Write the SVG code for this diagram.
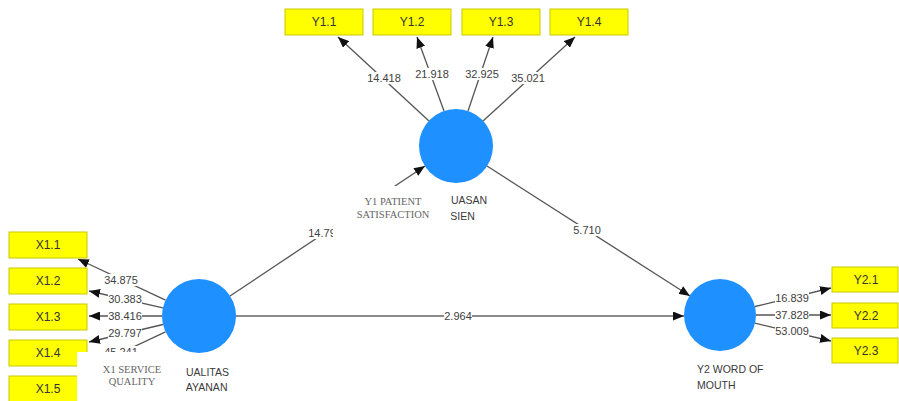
<svg xmlns="http://www.w3.org/2000/svg" width="899" height="401" viewBox="0 0 899 401">
<defs>
<style>
.ind rect{fill:#ffff00;stroke:#c8c800;stroke-width:1}
.ind text{font-family:"Liberation Sans",Arial,sans-serif;font-size:12px;fill:#333;text-anchor:middle}
.lv circle{fill:#1e90ff}
.lv text{font-family:"Liberation Sans",Arial,sans-serif;font-size:10.5px;fill:#3a3a3a}
.con line{stroke:#555;stroke-width:1.3;marker-end:url(#ah)}
.lbl rect{fill:#fff}
.lbl text{font-family:"Liberation Sans",Arial,sans-serif;font-size:11px;fill:#404040;text-anchor:middle}
.cov{fill:#fff}
.note{font-family:"Liberation Serif","Times New Roman",serif;font-size:10.5px;fill:#666;text-anchor:middle}
</style>
<marker id="ah" markerUnits="userSpaceOnUse" markerWidth="11" markerHeight="9" refX="11" refY="4.5" orient="auto">
<path d="M0,0 L11,4.5 L0,9 z" fill="#111"/>
</marker>
</defs>
<rect width="899" height="401" fill="#fff"/>

<g id="connectors" class="con">
<line x1="429" y1="121" x2="338" y2="37"/>
<line x1="444" y1="111" x2="417" y2="37"/>
<line x1="468" y1="111" x2="493" y2="37"/>
<line x1="483" y1="121" x2="575" y2="37"/>
<line x1="165.5" y1="300.2" x2="78" y2="259"/>
<line x1="162.9" y1="307.8" x2="89" y2="291"/>
<line x1="162" y1="316" x2="89" y2="316"/>
<line x1="163" y1="324.5" x2="89" y2="342"/>
<line x1="165.5" y1="331.8" x2="78" y2="373"/>
<line x1="755" y1="306.5" x2="831" y2="288"/>
<line x1="756" y1="315" x2="831" y2="315"/>
<line x1="755" y1="323.2" x2="831" y2="341"/>
<line x1="230" y1="296" x2="425" y2="166"/>
<line x1="487" y1="166" x2="690" y2="296"/>
<line x1="236" y1="316" x2="684" y2="316" style="stroke:#666;stroke-width:1.6"/>
</g>

<g id="labels" class="lbl">
<rect x="367" y="72" width="34" height="12"/><text x="384" y="82">14.418</text>
<rect x="415" y="68" width="34" height="12"/><text x="432" y="78">21.918</text>
<rect x="465" y="68" width="34" height="12"/><text x="482" y="78">32.925</text>
<rect x="511" y="72" width="34" height="12"/><text x="528" y="82">35.021</text>
<rect x="104" y="274" width="34" height="12"/><text x="121" y="284">34.875</text>
<rect x="108" y="293" width="34" height="12"/><text x="125" y="303">30.383</text>
<rect x="108" y="310" width="34" height="12"/><text x="125" y="320">38.416</text>
<rect x="108" y="327" width="34" height="12"/><text x="125" y="337">29.797</text>
<rect x="104" y="346" width="34" height="12"/><text x="121" y="356">45.241</text>
<rect x="775" y="292" width="34" height="12"/><text x="792" y="302">16.839</text>
<rect x="775" y="309" width="34" height="12"/><text x="792" y="319">37.828</text>
<rect x="775" y="325" width="34" height="12"/><text x="792" y="335">53.009</text>
<rect x="306" y="227" width="34" height="12"/><text x="322" y="237">14.79</text>
<rect x="573" y="224" width="28" height="12"/><text x="587" y="234">5.710</text>
<rect x="444" y="310" width="28" height="12"/><text x="458" y="320">2.964</text>
</g>

<g id="Y1.1" class="ind"><rect x="285" y="9" width="78" height="26"/><text x="324" y="26">Y1.1</text></g>
<g id="Y1.2" class="ind"><rect x="373" y="9" width="78" height="26"/><text x="412" y="26">Y1.2</text></g>
<g id="Y1.3" class="ind"><rect x="462" y="9" width="78" height="26"/><text x="501" y="26">Y1.3</text></g>
<g id="Y1.4" class="ind"><rect x="550" y="9" width="78" height="26"/><text x="589" y="26">Y1.4</text></g>

<g id="X1.1" class="ind"><rect x="9" y="232" width="78" height="26"/><text x="48" y="249">X1.1</text></g>
<g id="X1.2" class="ind"><rect x="9" y="268" width="78" height="26"/><text x="48" y="285">X1.2</text></g>
<g id="X1.3" class="ind"><rect x="9" y="304" width="78" height="26"/><text x="48" y="321">X1.3</text></g>
<g id="X1.4" class="ind"><rect x="9" y="340" width="78" height="26"/><text x="48" y="357">X1.4</text></g>
<g id="X1.5" class="ind"><rect x="9" y="376" width="78" height="26"/><text x="48" y="393">X1.5</text></g>

<g id="Y2.1" class="ind"><rect x="832" y="267" width="66" height="25"/><text x="866" y="284">Y2.1</text></g>
<g id="Y2.2" class="ind"><rect x="832" y="303" width="66" height="25"/><text x="866" y="320">Y2.2</text></g>
<g id="Y2.3" class="ind"><rect x="832" y="338" width="66" height="25"/><text x="866" y="355">Y2.3</text></g>

<g id="X1" class="lv"><circle cx="199" cy="316" r="37"/><text x="179" y="376">KUALITAS</text><text x="180" y="391">LAYANAN</text></g>
<g id="Y1" class="lv"><circle cx="456" cy="146" r="37"/><text x="430" y="204">KEPUASAN</text><text x="437" y="220">PASIEN</text></g>
<g id="Y2" class="lv"><circle cx="720" cy="315" r="36"/><text x="697" y="373">Y2 WORD OF</text><text x="697" y="389">MOUTH</text></g>

<g id="overlay-y1">
<rect class="cov" x="333" y="186" width="118" height="62"/>
<text class="note" x="393" y="205">Y1 PATIENT</text>
<text class="note" x="393" y="218">SATISFACTION</text>
</g>
<g id="overlay-x1">
<rect class="cov" x="77" y="352" width="109" height="49"/>
<text class="note" x="132" y="373">X1 SERVICE</text>
<text class="note" x="132" y="385">QUALITY</text>
</g>
</svg>
